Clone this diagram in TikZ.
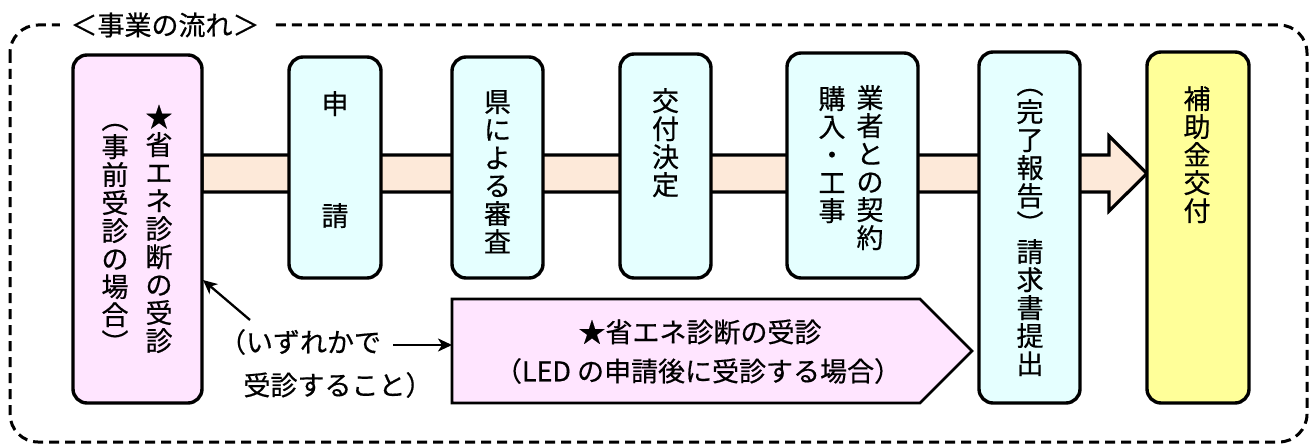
\documentclass[tikz,border=0pt]{standalone}
\usepackage{fontspec}
\setmainfont{Noto Sans CJK JP}[FakeBold=0.5]
\usetikzlibrary{arrows.meta}
\definecolor{pinkf}{HTML}{FFE5FF}
\definecolor{cyanf}{HTML}{E5FFFF}
\definecolor{peach}{HTML}{FDE9D9}
\definecolor{yell}{HTML}{FFFF99}
\begin{document}
\begin{tikzpicture}[x=1pt,y=-1pt,
  box/.style={draw, line width=3.4pt, rounded corners=14pt, inner sep=0pt},
  vcol/.style={align=center, inner sep=0pt, anchor=north, font=\fontsize{27}{28}\selectfont},
  htext/.style={inner sep=0pt, font=\fontsize{27}{28}\selectfont},
  thinarrow/.style={line width=2.3pt, -{Stealth[length=14pt,width=13pt,inset=4pt]}},
  ]
\useasboundingbox (0,0) rectangle (1312,444);
% outer dashed frame
\draw[line width=3pt, dash pattern=on 10pt off 6pt, rounded corners=28pt] (10,25) rectangle (1307,442);
\node[htext, fill=white, inner xsep=11pt, inner ysep=3pt] (title) at (165,25) {＜事業の流れ＞};
% big flow arrow
\draw[line width=3.2pt, fill=peach, line join=miter] (202,155) -- (1109,155) -- (1109,136) -- (1147,173.5) -- (1109,211) -- (1109,192) -- (202,192) -- cycle;
% boxes
\node[box, fill=pinkf, minimum width=129pt, minimum height=348pt] (p1) at (137.5,229) {};
\node[box, fill=cyanf, minimum width=92pt, minimum height=221pt] (b1) at (335,167.5) {};
\node[box, fill=cyanf, minimum width=91pt, minimum height=221pt] (b2) at (497.5,167.5) {};
\node[box, fill=cyanf, minimum width=91pt, minimum height=224pt] (b3) at (665.5,166) {};
\node[box, fill=cyanf, minimum width=131pt, minimum height=225pt] (b4) at (852.5,165.5) {};
\node[box, fill=cyanf, minimum width=101pt, minimum height=351pt] (b5) at (1029.5,227.5) {};
\node[box, fill=yell, minimum width=102pt, minimum height=351pt] (b6) at (1198,227.5) {};
% vertical texts
\node[vcol] (p1a) at (159,104) {\vphantom{申}★\\省\\エ\\ネ\\診\\断\\の\\受\\診};
\node[vcol] (p1b) at (115,106) {\vphantom{申}︵\\事\\前\\受\\診\\の\\場\\合\\︶};
\node[vcol] (t1) at (335,91) {申\\\mbox{}\\\mbox{}\\\mbox{}\\請};
\node[vcol] (t2) at (497.5,90) {県\\に\\よ\\る\\審\\査};
\node[vcol] (t3) at (665.5,88) {交\\付\\決\\定};
\node[vcol] (t4a) at (870,85) {業\\者\\と\\の\\契\\約};
\node[vcol] (t4b) at (832,86) {購\\入\\・\\工\\事};
\node[vcol] (t5) at (1030,71) {\vphantom{申}︵\\完\\了\\報\\告\\︶\\請\\求\\書\\提\\出};
\node[vcol] (t6) at (1197,86) {補\\助\\金\\交\\付};
% lower pentagon
\draw[line width=2.6pt, fill=pinkf, line join=miter] (452,299) -- (920,299) -- (972,351) -- (920,403) -- (452,403) -- cycle;
\coordinate (pw) at (452,345);
\node[htext] (pt1) at (700,332) {★省エネ診断の受診};
\node[htext] (pt2) at (698,371) {（LED の申請後に受診する場合）};
% annotation
\node[htext] (n1) at (300,342) {（いずれかで};
\node[htext] (n2) at (338,385) {受診すること）};
\coordinate (a1s) at (250,320);
\coordinate (a1e) at (203,280);
\coordinate (a2s) at (393,345);
\draw[thinarrow] (a1s) -- (a1e);
\draw[thinarrow] (a2s) -- (pw);
\end{tikzpicture}
\end{document}
